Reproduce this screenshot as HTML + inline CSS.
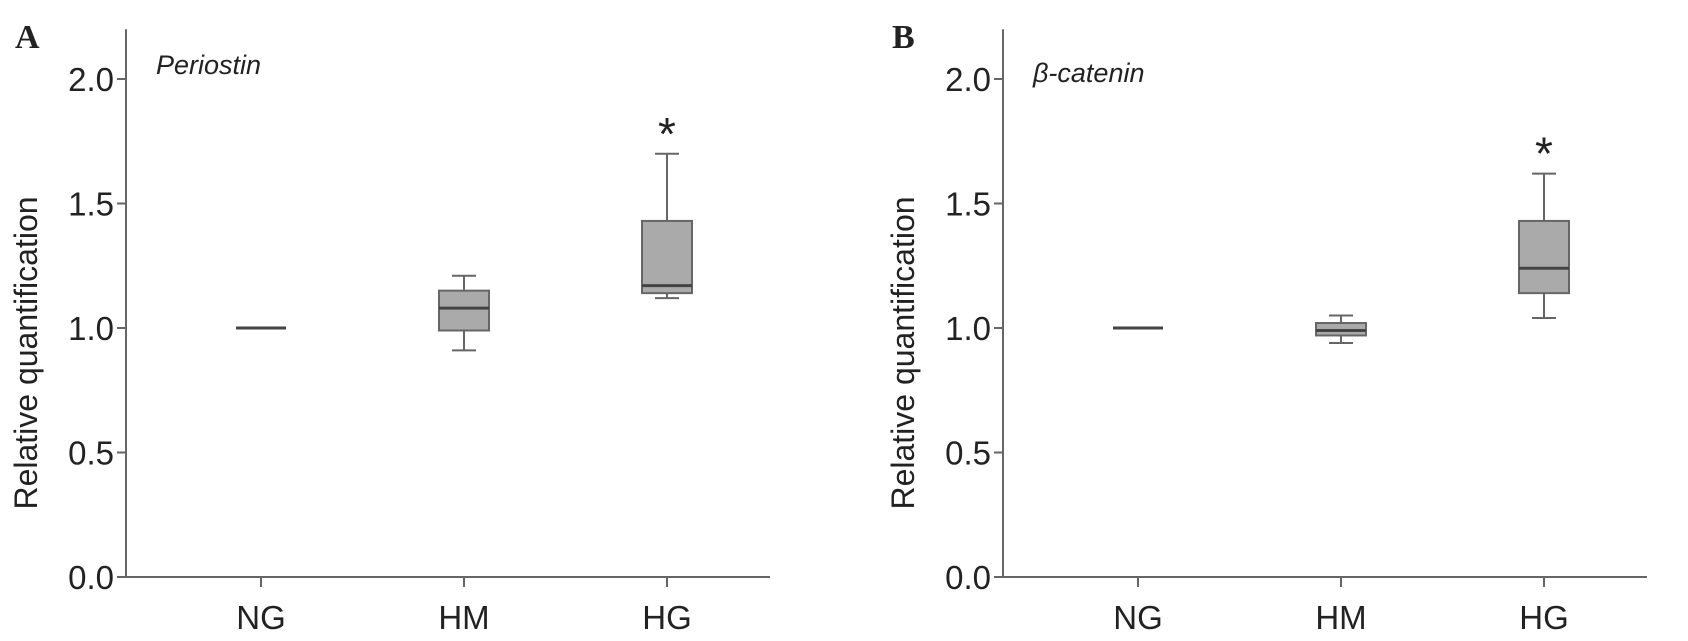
<!DOCTYPE html>
<html><head><meta charset="utf-8"><style>
html,body{margin:0;padding:0;background:#fff;}
svg{display:block;}
text{font-family:"Liberation Sans",sans-serif;fill:#222;}
</style></head><body>
<svg id="chart" width="1688" height="641" viewBox="0 0 1688 641" xmlns="http://www.w3.org/2000/svg"></svg>
<script>
const categories = ["NG","HM","HG"];
const ticks = [0.0,0.5,1.0,1.5,2.0];
const tickLabels = ["0.0","0.5","1.0","1.5","2.0"];
// [whiskerLow, q1, median, q3, whiskerHigh]
const periostinValues = [[1,1,1,1,1],[0.91,0.99,1.08,1.15,1.21],[1.12,1.14,1.17,1.43,1.70]];
const cateninValues = [[1,1,1,1,1],[0.94,0.97,0.99,1.02,1.05],[1.04,1.14,1.24,1.43,1.62]];
const periostinSig = [null,null,1.82];
const cateninSig = [null,null,1.74];

const NS="http://www.w3.org/2000/svg";
const svg=document.getElementById('chart');
function mk(tag,attrs,parent){const e=document.createElementNS(NS,tag);for(const k in attrs)e.setAttribute(k,attrs[k]);(parent||svg).appendChild(e);return e;}

function panel(id,ox,letter,title,values,sig){
  const g=mk('g',{});
  
  
  const axX=ox, y0=577, pxPerUnit=249, xEnd=ox+644;
  const yS=v=>y0-v*pxPerUnit;
  const xS=i=>axX+135+i*203;
  const L=mk('text',{x:axX-111,y:48,style:'font-family:"Liberation Serif",serif;font-weight:bold;font-size:34px;'},g);
  L.textContent=letter;
  
  
  const T=mk('text',{x:axX+30,y:id==='a'?74:82,'font-style':'italic','font-size':'27'},g);
  T.textContent=title;
  
  
  const ya=mk('line',{x1:axX,y1:yS(2.2),x2:axX,y2:y0,stroke:'#666','stroke-width':2},g);
  
  
  const xa=mk('line',{x1:axX-9,y1:y0,x2:xEnd,y2:y0,stroke:'#666','stroke-width':2},g);
  
  
  ticks.forEach((t,i)=>{
    const tk=mk('line',{x1:axX-9,y1:yS(t),x2:axX,y2:yS(t),stroke:'#666','stroke-width':2},g);
    
    
    const tl=mk('text',{x:axX-12,y:yS(t)+12,'text-anchor':'end','font-size':'33'},g);
    tl.textContent=tickLabels[i];
    
    
  });
  const yt=mk('text',{x:0,y:0,transform:`translate(${axX-89},${yS(1.0)+25}) rotate(-90)`,'text-anchor':'middle','font-size':'32'},g);
  yt.textContent='Relative quantification';
  
  
  categories.forEach((c,i)=>{
    const cx=xS(i);
    const tk=mk('line',{x1:cx,y1:y0,x2:cx,y2:y0+10,stroke:'#666','stroke-width':2},g);
    
    
    const cl=mk('text',{x:cx,y:629,'text-anchor':'middle','font-size':'33'},g);
    cl.textContent=c;
    
    
    const v=values[i];
    const bg=mk('g',{},g);
    
    
    const hw=25, cw=12;
    if(v[0]!==v[4]){
      mk('line',{x1:cx,y1:yS(v[0]),x2:cx,y2:yS(v[1]),stroke:'#666','stroke-width':2},bg);
      mk('line',{x1:cx,y1:yS(v[3]),x2:cx,y2:yS(v[4]),stroke:'#666','stroke-width':2},bg);
      mk('line',{x1:cx-cw,y1:yS(v[0]),x2:cx+cw,y2:yS(v[0]),stroke:'#666','stroke-width':2},bg);
      mk('line',{x1:cx-cw,y1:yS(v[4]),x2:cx+cw,y2:yS(v[4]),stroke:'#666','stroke-width':2},bg);
    }
    if(v[1]!==v[3]){
      mk('rect',{x:cx-hw,y:yS(v[3]),width:2*hw,height:yS(v[1])-yS(v[3]),fill:'#aaaaaa',stroke:'#666','stroke-width':2},bg);
    }
    mk('line',{x1:cx-hw,y1:yS(v[2]),x2:cx+hw,y2:yS(v[2]),stroke:'#444','stroke-width':3},bg);
    if(sig[i]!==null){
      const s=mk('text',{x:cx,y:yS(sig[i])+26,'text-anchor':'middle','font-size':'46'},g);
      s.textContent='*';
      
      
    }
  });
}
panel('a',126,'A','Periostin',periostinValues,periostinSig);
panel('b',1003,'B','β-catenin',cateninValues,cateninSig);
</script>
</body></html>
